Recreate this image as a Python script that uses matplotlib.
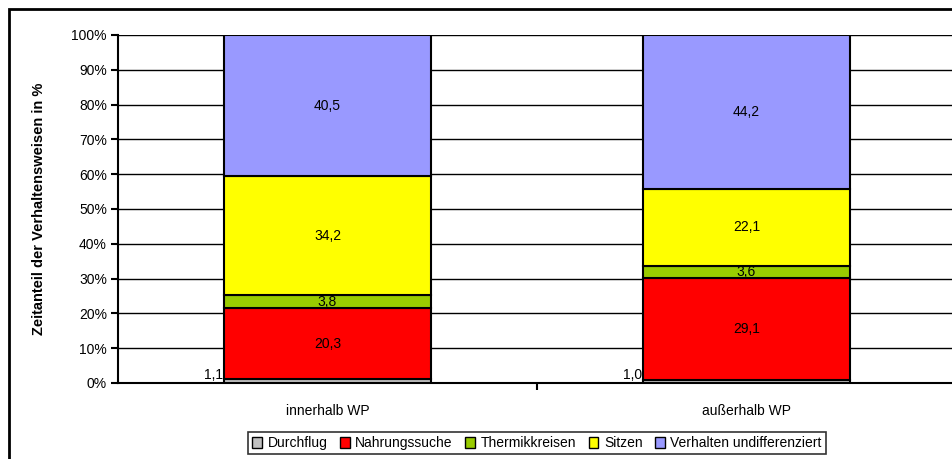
import numpy as np
import matplotlib.pyplot as plt
from matplotlib.patches import Rectangle
from matplotlib.ticker import PercentFormatter

plt.rcParams['font.family'] = ['Liberation Sans', 'DejaVu Sans']

kategorien = ["innerhalb WP", "außerhalb WP"]
verhalten = ["Durchflug", "Nahrungssuche", "Thermikkreisen", "Sitzen", "Verhalten undifferenziert"]
farben = ["#C0C0C0", "#FF0000", "#99CC00", "#FFFF00", "#9999FF"]

innerhalb = [1.1, 20.3, 3.8, 34.2, 40.5]
ausserhalb = [1.0, 29.1, 3.6, 22.1, 44.2]

werte = np.array([innerhalb, ausserhalb])
anteile = werte / werte.sum(axis=1, keepdims=True) * 100

fig = plt.figure(figsize=(9.53, 4.59), dpi=100)
ax = fig.add_axes([118 / 953, 76 / 459, 838 / 953, 348 / 459])

# outer chart frame
fig.patches.append(Rectangle((9 / 953, -0.1), 1.2, 1.1 - 9 / 459,
                             transform=fig.transFigure, fill=False,
                             edgecolor="black", linewidth=2.0))

x = np.arange(len(kategorien))
unten = np.zeros(len(kategorien))
for i, name in enumerate(verhalten):
    ax.bar(x, anteile[:, i], width=0.494, bottom=unten, color=farben[i],
           edgecolor="black", linewidth=1.5, label=name, zorder=3)
    for j in range(len(kategorien)):
        text = f"{werte[j, i]:.1f}".replace(".", ",")
        if i == 0:
            ax.text(x[j] - 0.25, unten[j] + 0.3, text, ha="right", va="bottom",
                    fontsize=10, zorder=4)
        else:
            ax.text(x[j], unten[j] + anteile[j, i] / 2, text, ha="center",
                    va="center", fontsize=10, zorder=4)
    unten += anteile[:, i]

ax.set_xlim(-0.5, 1.5)
ax.set_ylim(0, 100)
ax.set_yticks(np.arange(0, 101, 10))
ax.yaxis.set_major_formatter(PercentFormatter(decimals=0))
ax.grid(axis="y", color="black", linewidth=1.0, zorder=0)
ax.set_xticks(x)
ax.set_xticklabels(kategorien, fontsize=10)
ax.tick_params(axis="x", length=0, pad=15)
ax.set_xticks([0.5, 1.5], minor=True)
ax.tick_params(axis="x", which="minor", length=5, width=1.5, direction="out")
ax.tick_params(axis="y", length=5, width=1.5, labelsize=10, pad=3)

for side in ["top", "right"]:
    ax.spines[side].set_visible(False)
for side in ["left", "bottom"]:
    ax.spines[side].set_linewidth(1.5)

ax.set_ylabel("Zeitanteil der Verhaltensweisen in %", fontsize=10.5,
              fontweight="bold", labelpad=18)

leg = ax.legend(loc="upper center", bbox_to_anchor=(0.5, -0.141), ncol=5,
                fontsize=10, frameon=True, fancybox=False, handlelength=0.7,
                handleheight=0.8, handletextpad=0.4, columnspacing=0.9,
                borderpad=0.3, borderaxespad=0)
leg.get_frame().set_edgecolor("black")
leg.get_frame().set_linewidth(1.2)
for h in leg.legend_handles:
    h.set_linewidth(1.0)

fig.savefig("out.png", dpi=100)
